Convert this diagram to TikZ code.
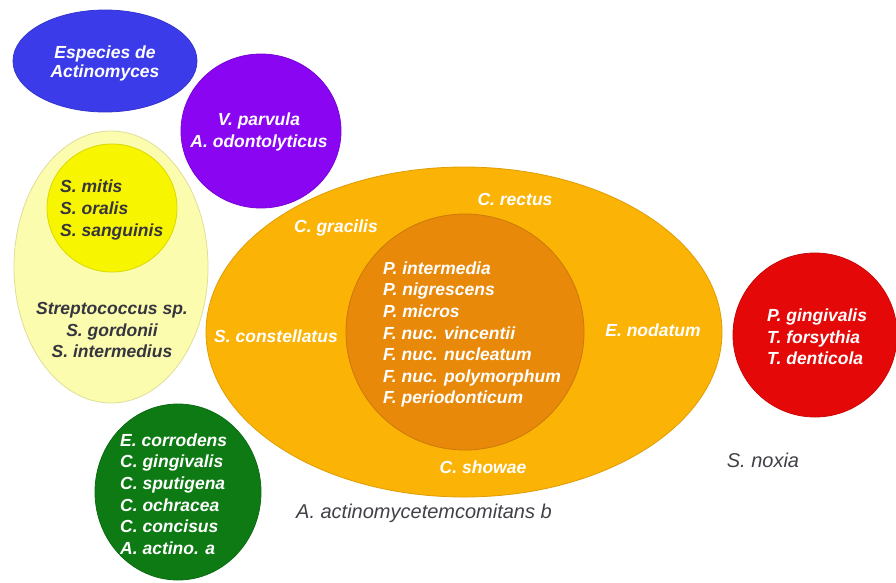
\documentclass[tikz,border=0pt]{standalone}
\usepackage{fontspec}
\setmainfont{Liberation Sans}
\usetikzlibrary{shapes.geometric}
\definecolor{cblue}{HTML}{3B3BEA}
\definecolor{cpurple}{HTML}{8A05F2}
\definecolor{cyellow}{HTML}{F8F500}
\definecolor{cpale}{HTML}{FCFCAE}
\definecolor{corange}{HTML}{FBB305}
\definecolor{cinner}{HTML}{E8890A}
\definecolor{cgreen}{HTML}{0D7A14}
\definecolor{cred}{HTML}{E50808}
\definecolor{txtdark}{HTML}{35353F}
\definecolor{txtgray}{HTML}{404048}
\begin{document}
\begin{tikzpicture}[x=1pt,y=-1pt,
  blob/.style={ellipse, draw=#1!88!black, line width=0.8pt, fill=#1, inner sep=0pt},
  wt/.style={text=white, font=\fontsize{17.5}{21.6}\selectfont\bfseries\itshape, inner sep=0pt},
  dk/.style={text=txtdark, font=\fontsize{17.5}{21.6}\selectfont\bfseries\itshape, inner sep=0pt},
  gr/.style={text=txtgray, font=\fontsize{20}{24}\selectfont\itshape, inner sep=0pt}]
\useasboundingbox (0,0) rectangle (896,582);
% shapes
\node[blob=cpale, minimum width=194pt, minimum height=272pt] (pale) at (111,267) {};
\node[blob=cyellow, minimum width=130pt, minimum height=128pt] (yel) at (112,208) {};
\node[blob=cblue, minimum width=184pt, minimum height=102pt] (blue) at (105,61) {};
\node[blob=cpurple, minimum width=160pt, minimum height=154pt] (purp) at (261,131) {};
\node[blob=corange, minimum width=516pt, minimum height=330pt] (orange) at (464,332) {};
\node[blob=cinner, minimum width=238pt, minimum height=236pt] (inner) at (465,332) {};
\node[blob=cgreen, minimum width=166pt, minimum height=176pt] (green) at (178,492) {};
\node[blob=cred, minimum width=164pt, minimum height=164pt] (red) at (815,335) {};
% texts
\node[wt, align=center, font=\fontsize{17.5}{19}\selectfont\bfseries\itshape] (tblue) at (105,63) {Especies de\\Actinomyces};
\node[wt, align=center] (tpurp) at (259,132) {V. parvula\\A. odontolyticus};
\node[dk, align=left, anchor=west] (tyel) at (60,210) {S. mitis\\S. oralis\\S. sanguinis};
\node[dk, align=center] (tpale) at (112,330) {Streptococcus sp.\\S. gordonii\\S. intermedius};
\node[wt] (rectus) at (515,199) {C. rectus};
\node[wt] (gracilis) at (336,228) {C. gracilis};
\node[wt] (constel) at (276,336) {S. constellatus};
\node[wt] (nodatum) at (653,330) {E. nodatum};
\node[wt] (showae) at (483,467) {C. showae};
\node[wt, align=left, anchor=west] (tinner) at (383,334.5) {P. intermedia\\P. nigrescens\\P. micros\\F. nuc. vincentii\\F. nuc. nucleatum\\F. nuc. polymorphum\\F. periodonticum};
\node[wt, align=left, anchor=west] (tgreen) at (120,494) {E. corrodens\\C. gingivalis\\C. sputigena\\C. ochracea\\C. concisus\\A. actino. a};
\node[wt, align=left, anchor=west] (tred) at (767,337) {P. gingivalis\\T. forsythia\\T. denticola};
\node[gr] (noxia) at (763,460) {S. noxia};
\node[gr] (aab) at (424,513) {A. actinomycetemcomitans b};
\end{tikzpicture}
\end{document}
